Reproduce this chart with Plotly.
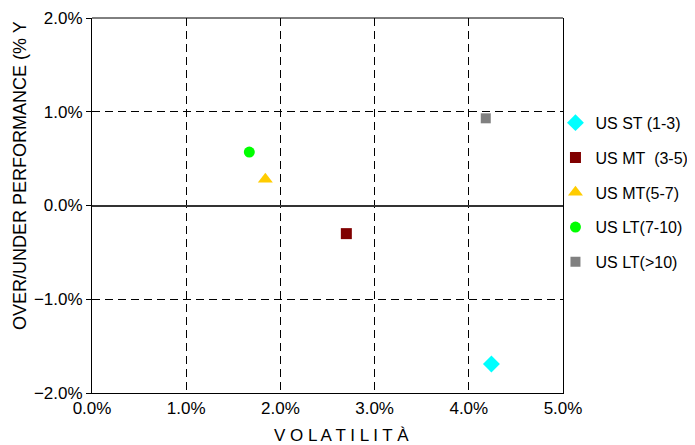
import plotly.graph_objects as go

names = ["US ST (1-3)", "US MT\u00a0 (3-5)", "US MT(5-7)", "US LT(7-10)", "US LT(>10)"]
volatility = [0.0424, 0.0270, 0.0184, 0.0167, 0.0418]
performance = [-0.0169, -0.0030, 0.0028, 0.0057, 0.0093]
symbols = ["diamond", "square", "triangle-up", "circle", "square"]
colors = ["#00FFFF", "#800000", "#FFCC00", "#00FF00", "#808080"]
sizes = [13, 11, 13, 11, 10]

x_title = "V O L A T I L I T À"
y_title = "OVER/UNDER PERFORMANCE (% Y"

FONT = "Liberation Sans, Arial, sans-serif"

fig = go.Figure()
for i, n in enumerate(names):
    fig.add_trace(go.Scatter(
        x=[volatility[i]], y=[performance[i]], mode="markers", name=n,
        legendgroup=f"g{i}",
        marker=dict(symbol=symbols[i], color=colors[i], size=sizes[i], line=dict(width=0)),
    ))

fig.update_layout(
    width=687, height=437,
    margin=dict(l=84, r=132, t=10, b=52, autoexpand=False),
    paper_bgcolor="white", plot_bgcolor="white",
    font=dict(family=FONT, size=17, color="black"),
    showlegend=True,
    legend=dict(x=0.984, xanchor="left", y=0.766, yanchor="top",
                font=dict(size=16), tracegroupgap=11, bgcolor="rgba(0,0,0,0)"),
    xaxis=dict(range=[0, 0.05], dtick=0.01, tickformat=".1%", automargin=False,
               showgrid=True, gridcolor="black", gridwidth=1, griddash="8px,5px",
               zeroline=False, showline=True, linecolor="black", linewidth=1, mirror=False,
               ticks=""),
    yaxis=dict(range=[-0.02, 0.02], dtick=0.01, tickformat=".1%", automargin=False,
               showgrid=True, gridcolor="black", gridwidth=1, griddash="8px,5px",
               zeroline=True, zerolinecolor="#333333", zerolinewidth=1.5,
               showline=True, linecolor="black", linewidth=1, mirror=True,
               ticks="outside", ticklen=5, tickcolor="black"),
    shapes=[dict(type="line", xref="paper", yref="paper", x0=0, x1=1, y0=1, y1=1,
                 line=dict(color="black", width=1))],
    annotations=[
        dict(text=x_title, xref="paper", yref="paper", x=0.5287, y=-0.1146,
             xanchor="center", yanchor="middle", showarrow=False, font=dict(size=17)),
        dict(text=y_title, xref="paper", yref="paper", x=-0.1529, y=0.5813,
             xanchor="center", yanchor="middle", textangle=-90, showarrow=False,
             font=dict(size=18)),
    ],
)

fig.write_html("out.html")
